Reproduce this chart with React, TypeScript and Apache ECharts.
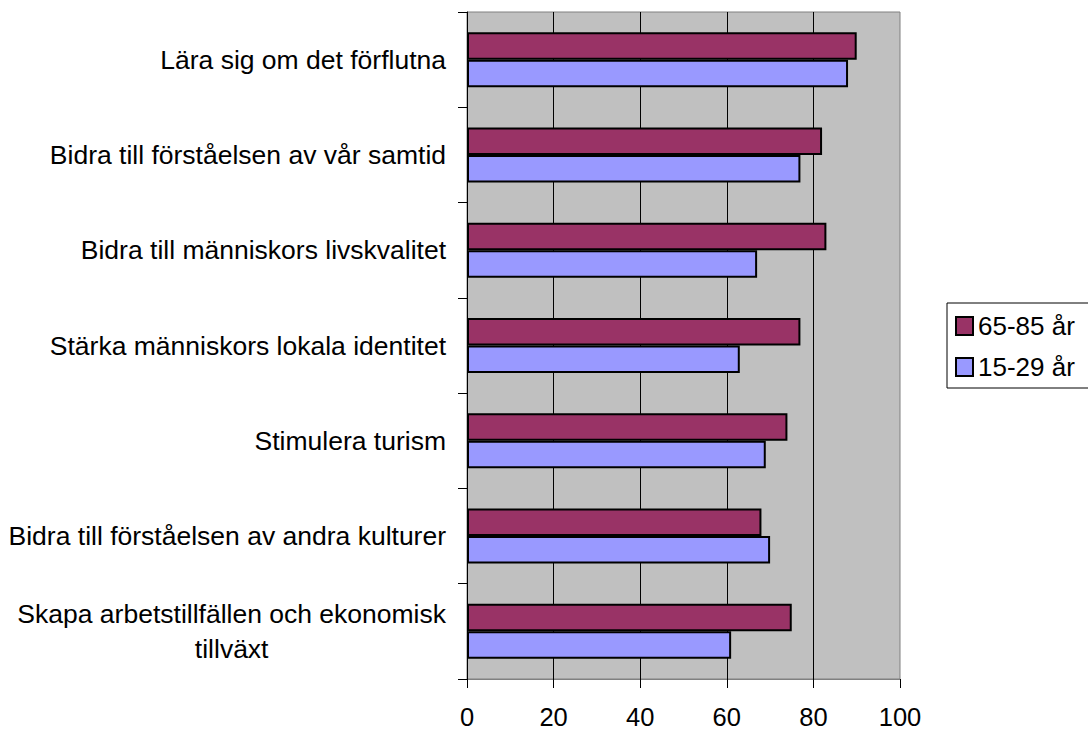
import React, { useEffect, useRef } from "react";
import * as echarts from "echarts";

const categories = [
  "Lära sig om det förflutna",
  "Bidra till förståelsen av vår samtid",
  "Bidra till människors livskvalitet",
  "Stärka människors lokala identitet",
  "Stimulera turism",
  "Bidra till förståelsen av andra kulturer",
  "Skapa arbetstillfällen och ekonomisk\ntillväxt",
];
const seriesOld = [90, 82, 83, 77, 74, 68, 75];
const seriesYoung = [88, 77, 67, 63, 69, 70, 61];
const seriesNames = ["65-85 år", "15-29 år"];
const xTicks = { min: 0, max: 100, interval: 20 };

const FONT = "'Liberation Sans', Arial, sans-serif";

export default function App() {
  const ref = useRef<HTMLDivElement>(null);
  useEffect(() => {
    if (!ref.current) return;
    const chart = echarts.init(ref.current, null, { renderer: "svg" });
    chart.setOption({
      animation: false,
      textStyle: { fontFamily: FONT },
      grid: {
        left: 467,
        right: 188,
        top: 12,
        bottom: 52,
        containLabel: false,
        show: true,
        backgroundColor: "#C0C0C0",
        borderColor: "#808080",
        borderWidth: 1,
      },
      legend: {
        orient: "vertical",
        left: 947,
        top: 303,
        data: seriesNames,
        backgroundColor: "#ffffff",
        borderColor: "#000000",
        borderWidth: 1,
        padding: [10, 40, 8, 8],
        itemWidth: 17,
        itemHeight: 18,
        itemGap: 15,
        icon: "rect",
        textStyle: { fontSize: 26, color: "#000", fontFamily: FONT },
      },
      xAxis: {
        type: "value",
        min: xTicks.min,
        max: xTicks.max,
        interval: xTicks.interval,
        axisLine: { show: true, lineStyle: { color: "#808080", width: 1 } },
        axisTick: { show: true, length: 9, lineStyle: { color: "#000" } },
        axisLabel: {
          fontSize: 25.5,
          lineHeight: 20,
          color: "#000",
          margin: 28,
          fontFamily: FONT,
        },
        splitLine: {
          show: true,
          showMinLine: false,
          showMaxLine: false,
          lineStyle: { color: "#000", width: 1 },
        },
      },
      yAxis: {
        type: "category",
        data: categories,
        inverse: true,
        axisLine: { show: true, lineStyle: { color: "#000", width: 1 } },
        axisTick: { show: true, length: 9, lineStyle: { color: "#000" } },
        axisLabel: {
          margin: 21,
          color: "#000",
          fontSize: 26.5,
          fontFamily: FONT,
          formatter: (v: string) =>
            v
              .split("\n")
              .map((s) => `{a|${s}}`)
              .join("\n"),
          rich: {
            a: {
              fontSize: 26.5,
              fontFamily: FONT,
              color: "#000",
              align: "center",
              lineHeight: 35,
            },
          },
        },
        splitLine: { show: false },
      },
      series: [
        {
          name: seriesNames[0],
          type: "bar",
          data: seriesOld,
          barWidth: 27.5,
          barGap: "0%",
          itemStyle: { color: "#993366", borderColor: "#000", borderWidth: 2 },
        },
        {
          name: seriesNames[1],
          type: "bar",
          data: seriesYoung,
          barWidth: 27.5,
          barGap: "0%",
          itemStyle: { color: "#9999FF", borderColor: "#000", borderWidth: 2 },
        },
      ],
    });
    return () => chart.dispose();
  }, []);
  return (
    <div
      ref={ref}
      style={{ position: "absolute", left: 0, top: 0, width: 1088, height: 731 }}
    />
  );
}
